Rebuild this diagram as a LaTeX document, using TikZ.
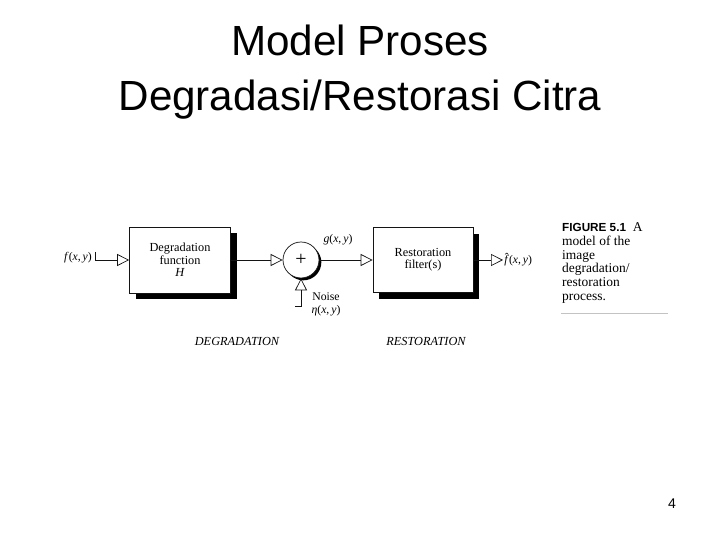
\documentclass[tikz,border=0pt]{standalone}
\usepackage{fontspec}
\setmainfont{Liberation Serif}
\setsansfont{Liberation Sans}
\usetikzlibrary{arrows.meta,positioning,calc,shadows}
\definecolor{dgink}{RGB}{20,20,20}
\definecolor{dgrule}{RGB}{195,195,195}
\newcommand{\xyarg}{(\textit{x},\,\textit{y})}
\newcommand{\fhatsym}{\textit{f}\llap{\raisebox{0.2em}{\char"02C6}\kern0.02em}}
\tikzset{
  dgbox/.style={
    draw=dgink, fill=white, line width=0.6pt, align=center,
    font=\fontsize{10.5}{10.5}\selectfont, inner sep=2pt,
    drop shadow={shadow xshift=0.19cm, shadow yshift=-0.19cm, fill=black, opacity=1}
  },
  sumnode/.style={
    circle, draw=dgink, fill=white, line width=0.6pt, minimum size=1.08cm,
    inner sep=0pt, font=\fontsize{17}{17}\selectfont,
    drop shadow={shadow xshift=0.07cm, shadow yshift=-0.07cm, fill=black, opacity=1}
  },
  sig/.style={font=\fontsize{10}{11}\selectfont, inner sep=1pt, align=center},
  oarr/.style={-{Triangle[open, length=3.6mm, width=3.6mm]}, draw=dgink, line width=0.6pt},
  phase/.style={font=\fontsize{10.5}{12}\selectfont\itshape},
  capt/.style={font=\fontsize{11.5}{11.9}\selectfont, align=left, inner sep=0pt},
  ttl/.style={font=\fontsize{36}{47}\selectfont\sffamily, align=center},
  pgno/.style={font=\fontsize{12}{14}\selectfont\sffamily}
}
\begin{document}
\begin{tikzpicture}[x=0.03cm, y=-0.03cm]
  \useasboundingbox (0,0) rectangle (720,540);
  \node[ttl] (title) at (360,72) {Model Proses\\Degradasi/Restorasi Citra};
  % degradation half
  \node[sig] (fin) at (78,258) {\textit{f}\xyarg};
  \coordinate (fk) at (95,252);
  \node[dgbox, minimum width=3.03cm, minimum height=1.98cm] (degr) at (180,260) {Degradation\\function\\\textit{H}};
  \node[sumnode] (sum) at (301,260) {+};
  \node[sig] (gxy) at (338,240) {\textit{g}\xyarg};
  \node[sig] (noise) at (326,304) {Noise\\\textit{η}\xyarg};
  \coordinate (nk) at (295,306);
  % restoration half
  \node[dgbox, minimum width=3.0cm, minimum height=1.95cm] (rest) at (423,260) {Restoration\\filter(s)};
  \node[sig, anchor=west] (fhat) at (503,260) {\fhatsym\xyarg};
  \draw[oarr] (fk) |- (degr.west);
  \draw[oarr] (degr.east) -- (sum.west);
  \draw[oarr] (nk) -| (sum.south);
  \draw[oarr] (sum.east) -- (rest.west);
  \draw[oarr] (rest.east) -- (fhat.west);
  \node[phase] (dlbl) at (237,341) {DEGRADATION};
  \node[phase] (rlbl) at (426,341) {RESTORATION};
  \node[capt, anchor=north west] (cap) at (562,222) {{\sffamily\bfseries\fontsize{10}{11.9}\selectfont FIGURE 5.1}\ \ A\\model of the\\image\\degradation/\\restoration\\process.};
  \draw[dgrule, line width=0.6pt] (561,313) -- (668,313);
  \node[pgno] (pg) at (672,504) {4};
\end{tikzpicture}
\end{document}
